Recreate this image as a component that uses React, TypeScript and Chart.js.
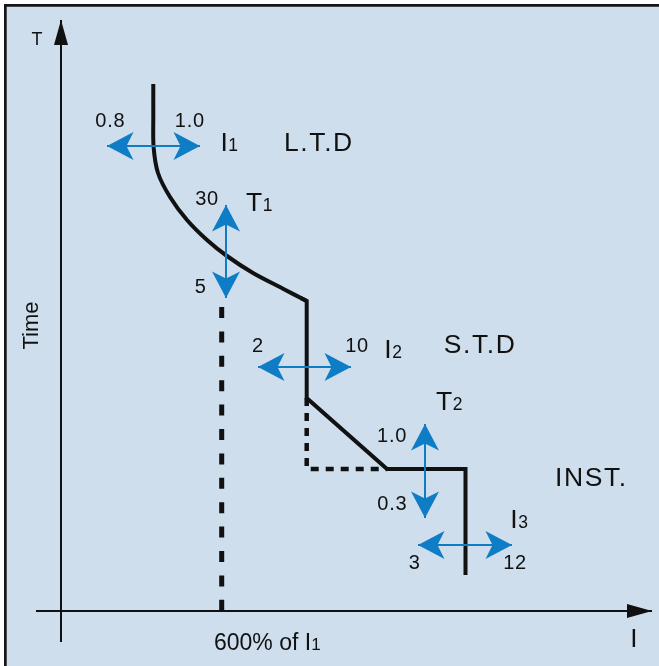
import React, { useEffect, useRef } from "react";
import { Chart, registerables } from "chart.js";

Chart.register(...registerables);

// Units: horizontal = current I, vertical = time T, origin at the crossing of the axes.
const ltdCurveI = [92.3, 92.3, 92.6, 97, 109, 126, 146, 166, 192, 222, 245.7];
const ltdCurveT = [527, 495, 464, 438, 414, 391, 371, 355, 338, 322.3, 310];

const stdInstI = [240, 245.7, 245.7, 326, 404.5, 404.5];
const stdInstT = [312.9, 310, 213, 142, 142, 36];

const stdAltI = [245.7, 245.7, 326];
const stdAltT = [213, 142, 142];

const sixTimesI1I = [160.7, 160.7];
const sixTimesI1T = [304, 0];

const timeAxisI = [0, 0];
const timeAxisT = [-31, 591];
const currentAxisI = [-25, 591];
const currentAxisT = [0, 0];

// Adjustment arrows (setting ranges)
const adjI1I = [46, 139];
const adjI1T = [465, 465];
const adjT1I = [165, 165];
const adjT1T = [406, 313];
const adjI2I = [197, 290];
const adjI2T = [244, 244];
const adjT2I = [364, 364];
const adjT2T = [187, 93];
const adjI3I = [357, 451];
const adjI3T = [66, 66];

// Text labels
const labelTexts = ["T", "Time", "0.8", "1.0", "I", "L.T.D", "30", "T", "5", "2", "10", "I", "S.T.D", "T", "1.0", "0.3", "INST.", "I", "3", "12", "I", "600% of I"];
const labelSubs = ["", "", "", "", "1", "", "", "1", "", "", "", "2", "", "2", "", "", "", "3", "", "", "", "1"];
const labelI = [-29.5, -22.7, 49, 128.5, 159.5, 223, 145.7, 185, 139.2, 196.5, 295.7, 323.3, 382.7, 375, 330.7, 331, 494, 449.3, 353.2, 453.7, 569.3, 153];
const labelT = [566, 285.5, 483.7, 483.7, 460, 460, 406, 400.3, 318.3, 259.3, 259.3, 253, 257.7, 201, 168.7, 101, 125, 82.7, 41.7, 41.7, -36.3, -39];
const labelKinds = ["axis", "rot", "num", "num", "big", "word", "num", "big", "num", "num", "num", "big", "word", "big", "num", "num", "word", "big", "num", "num", "axisI", "note"];

const BG = "#cedeed";
const BLUE = "#0f7cc6";
const INK = "#111111";
const FONT = "'Liberation Sans', Arial, Helvetica, sans-serif";

const zip = (xs: number[], ys: number[]) => xs.map((x, i) => ({ x, y: ys[i] }));

const framePlugin = {
  id: "frame",
  beforeDraw(chart: any) {
    const { ctx, width, height } = chart;
    ctx.save();
    ctx.fillStyle = "#ffffff";
    ctx.fillRect(0, 0, width, height);
    ctx.fillStyle = BG;
    ctx.fillRect(5, 5, width - 5, height - 5);
    ctx.strokeStyle = "#151515";
    ctx.lineWidth = 2.7;
    ctx.beginPath();
    ctx.moveTo(5.35, height);
    ctx.lineTo(5.35, 5.35);
    ctx.lineTo(width, 5.35);
    ctx.stroke();
    ctx.restore();
  },
};

const headsPlugin = {
  id: "heads",
  afterDatasetsDraw(chart: any) {
    const { ctx } = chart;
    chart.data.datasets.forEach((ds: any, idx: number) => {
      if (!ds.heads) return;
      const pts = chart.getDatasetMeta(idx).data;
      const n = pts.length;
      const ends: Array<[any, any]> = [];
      if (ds.heads === "both" || ds.heads === "start") ends.push([pts[0], pts[1]]);
      if (ds.heads === "both" || ds.heads === "end") ends.push([pts[n - 1], pts[n - 2]]);
      ends.forEach(([tip, from]) => {
        const a = Math.atan2(tip.y - from.y, tip.x - from.x);
        ctx.save();
        ctx.translate(tip.x, tip.y);
        ctx.rotate(a);
        ctx.fillStyle = ds.borderColor;
        ctx.beginPath();
        if (ds.headStyle === "barbed") {
          ctx.moveTo(0, 0);
          ctx.lineTo(-26.5, -14);
          ctx.lineTo(-19.5, 0);
          ctx.lineTo(-26.5, 14);
        } else {
          ctx.moveTo(0, 0);
          ctx.lineTo(-25, -7);
          ctx.lineTo(-25, 7);
        }
        ctx.closePath();
        ctx.fill();
        ctx.restore();
      });
    });
  },
};

const kindSize: Record<string, number> = { axis: 18, rot: 22, num: 20, big: 26.5, word: 26.5, axisI: 26, note: 23 };
const kindSpacing: Record<string, number> = { num: 0.8, word: 1.6, big: 0.5 };
const kindSub: Record<string, number> = { big: 17.5, note: 17 };

const textPlugin = {
  id: "texts",
  afterDatasetsDraw(chart: any) {
    const { ctx } = chart;
    const xs = chart.scales.x;
    const ys = chart.scales.y;
    labelTexts.forEach((txt, k) => {
      const kind = labelKinds[k];
      const px = xs.getPixelForValue(labelI[k]);
      const py = ys.getPixelForValue(labelT[k]);
      const size = kindSize[kind];
      const sp = kindSpacing[kind] || 0;
      ctx.save();
      ctx.fillStyle = INK;
      ctx.textBaseline = "alphabetic";
      ctx.font = `${size}px ${FONT}`;
      if ("letterSpacing" in ctx) (ctx as any).letterSpacing = `${sp}px`;
      if (kind === "rot") {
        ctx.translate(px, py);
        ctx.rotate(-Math.PI / 2);
        ctx.textAlign = "center";
        ctx.fillText(txt, 0, 0);
      } else if (kind === "num") {
        ctx.textAlign = "center";
        ctx.fillText(txt, px + sp / 2, py);
      } else {
        ctx.textAlign = "left";
        ctx.fillText(txt, px, py);
        const sub = labelSubs[k];
        if (sub) {
          const w = ctx.measureText(txt).width;
          ctx.font = `${kindSub[kind] || 17}px ${FONT}`;
          ctx.fillText(sub, px + w, py);
        }
      }
      ctx.restore();
    });
  },
};

export default function App() {
  const ref = useRef<HTMLCanvasElement | null>(null);

  useEffect(() => {
    if (!ref.current) return;
    const line = (data: any[], color: string, width: number, extra: any = {}) => ({
      data,
      showLine: true,
      borderColor: color,
      backgroundColor: color,
      borderWidth: width,
      pointRadius: 0,
      pointHoverRadius: 0,
      tension: 0,
      fill: false,
      borderJoinStyle: "miter",
      borderCapStyle: "butt",
      ...extra,
    });

    const blueArrow = (is: number[], ts: number[]) =>
      line(zip(is, ts), BLUE, 2, { heads: "both", headStyle: "barbed", order: 0 });

    const chart = new Chart(ref.current, {
      type: "scatter",
      data: {
        datasets: [
          blueArrow(adjI1I, adjI1T),
          blueArrow(adjT1I, adjT1T),
          blueArrow(adjI2I, adjI2T),
          blueArrow(adjT2I, adjT2T),
          blueArrow(adjI3I, adjI3T),
          line(zip(ltdCurveI, ltdCurveT), INK, 4, { tension: 0.3, order: 1 }),
          line(zip(stdInstI, stdInstT), INK, 4, { order: 1 }),
          line(zip(stdAltI, stdAltT), INK, 4.5, { borderDash: [8, 7], order: 2 }),
          line(zip(sixTimesI1I, sixTimesI1T), INK, 5, { borderDash: [11, 13.4], order: 2 }),
          line(zip(timeAxisI, timeAxisT), INK, 2, { heads: "end", headStyle: "solid", order: 3 }),
          line(zip(currentAxisI, currentAxisT), INK, 2, { heads: "end", headStyle: "solid", order: 3 }),
        ] as any,
      },
      options: {
        animation: false,
        responsive: false,
        maintainAspectRatio: false,
        events: [],
        layout: { padding: 0 },
        scales: {
          x: { type: "linear", display: false, min: -61, max: 598 },
          y: { type: "linear", display: false, min: -55, max: 611 },
        },
        plugins: {
          legend: { display: false },
          tooltip: { enabled: false },
        },
      } as any,
      plugins: [framePlugin, headsPlugin, textPlugin],
    });
    return () => chart.destroy();
  }, []);

  return (
    <div style={{ position: "absolute", left: 0, top: 0, width: 659, height: 666 }}>
      <canvas ref={ref} width={659} height={666} style={{ display: "block", width: 659, height: 666 }} />
    </div>
  );
}
